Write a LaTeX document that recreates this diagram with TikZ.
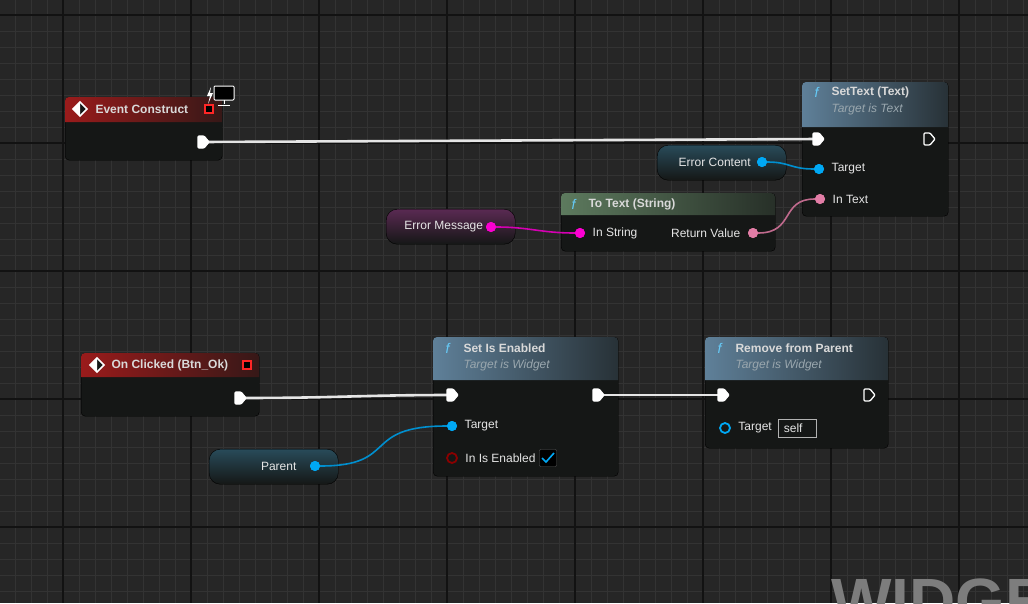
\documentclass[tikz,border=0pt]{standalone}
\usepackage{fontspec}
\setmainfont{Liberation Sans}
\usetikzlibrary{positioning}
\usetikzlibrary{calc}

\definecolor{bg}{HTML}{262626}
\definecolor{gridminor}{HTML}{333333}
\definecolor{gridmajor}{HTML}{121212}
\definecolor{nodebody}{HTML}{151716}
\definecolor{objblue}{HTML}{00A8F4}
\definecolor{strpink}{HTML}{FB00D1}
\definecolor{txtpink}{HTML}{E27DA6}
\definecolor{boolred}{HTML}{8A0000}
\definecolor{evred}{HTML}{9A1B1B}
\definecolor{fnblue}{HTML}{5F8099}
\definecolor{fngreen}{HTML}{5D7A5E}
\definecolor{subtxt}{HTML}{9AA7AE}

\newcommand{\hdr}[5]{% x1 y1 x2 yh colour
  \path[left color=#5, right color=#5!25!nodebody]
    (#1,#4) [rounded corners=4pt]-- (#1,#2) -- (#3,#2) [sharp corners]-- (#3,#4) -- cycle;}
\newcommand{\execpin}[2]{% coordinate, filled or not
  \path[draw=white, line width=1.3pt, fill=#2, rounded corners=1pt]
    ($(#1)+(-5,-6)$) -- ($(#1)+(1,-6)$) -- ($(#1)+(6,0)$) -- ($(#1)+(1,6)$) -- ($(#1)+(-5,6)$) -- cycle;}

\begin{document}
\begin{tikzpicture}[x=1pt, y=-1pt,
    blk/.style={rectangle, draw=black, fill=nodebody, rounded corners=4pt, anchor=north west, inner sep=0},
    pill/.style={rectangle, draw=black, rounded corners=11pt, anchor=north west, inner sep=0,
      minimum width=129pt, minimum height=35pt, top color=#1!22!nodebody!90!white, bottom color=nodebody,
      font=\fontsize{12}{14}\selectfont, text=white!90!black},
    pin/.style={circle, fill=#1, minimum size=10pt, inner sep=0},
    hpin/.style={circle, draw=#1, line width=1.8pt, minimum size=10pt, inner sep=0},
    ttl/.style={anchor=west, font=\bfseries\fontsize{12}{14}\selectfont, text=white!85!black},
    sub/.style={anchor=west, font=\itshape\fontsize{12}{14}\selectfont, text=subtxt},
    lbl/.style={anchor=west, font=\fontsize{12}{14}\selectfont, text=white!90!black},
    fn/.style={anchor=west, font=\itshape\fontsize{14}{14}\selectfont, text=objblue!60!white},
    wire/.style={line width=1.6pt, #1},
    exec/.style={line width=2.6pt, white!90!black}
]
% background grid
\fill[bg] (0,0) rectangle (1028,603);
\useasboundingbox (0,0) rectangle (1028,603);
\foreach \x in {15,31,...,1028} \draw[gridminor, line width=1pt] (\x,0) -- (\x,603);
\foreach \y in {15,31,...,603} \draw[gridminor, line width=1pt] (0,\y) -- (1028,\y);
\foreach \x in {63,191,...,1028} \draw[gridmajor, line width=1.2pt] (\x,0) -- (\x,603);
\foreach \y in {15,143,...,603} \draw[gridmajor, line width=1.2pt] (0,\y) -- (1028,\y);
\node[anchor=north west, font=\bfseries\fontsize{64}{64}\selectfont, text=white!40!bg] (wgt) at (828,575) {WIDGET};

% node bodies
\node[blk, minimum width=157pt, minimum height=63pt] (evc) at (65,97) {};
\node[blk, minimum width=146pt, minimum height=134pt] (st) at (802,82) {};
\node[blk, minimum width=214pt, minimum height=58pt] (tt) at (561,193) {};
\node[blk, minimum width=178pt, minimum height=63pt] (onc) at (81,353) {};
\node[blk, minimum width=185pt, minimum height=139pt] (sie) at (433,337) {};
\node[blk, minimum width=183pt, minimum height=111pt] (rfp) at (705,337) {};
\hdr{65}{97}{222}{122}{evred}
\hdr{802}{82}{948}{127}{fnblue}
\hdr{561}{193}{775}{215}{fngreen}
\hdr{81}{353}{259}{377}{evred}
\hdr{433}{337}{618}{380}{fnblue}
\hdr{705}{337}{888}{380}{fnblue}

% variable pills
\node[pill=objblue] (ecv) at (657,145) {\hspace*{-14pt}Error Content};
\node[pill=strpink] (emv) at (386,209) {\hspace*{-14pt}Error Message};
\node[pill=objblue] (par) at (209,449) {\hspace*{10pt}Parent};

% titles
\node[ttl] (evc-t) at (92,109) {Event Construct};
\path[draw=white, fill=nodebody, line width=1.5pt] (73,109) -- (80,102) -- (87,109) -- (80,116) -- cycle;
\fill[white] (80,102) -- (73,109) -- (80,116) -- cycle;
\node[draw=red!85!white, line width=1.5pt, fill=black, minimum size=8pt, inner sep=0] (evc-d) at (209,109) {};
\draw[white, line width=1pt, fill=black, rounded corners=1pt] (214,86) rectangle (234,100);
\draw[white, line width=1pt] (224,100) -- (224,104) (218,105) -- (230,105);
\fill[white] (211,87) -- (207,96) -- (210,96) -- (208,104) -- (213,93) -- (210,93) -- cycle;
\node[fn] (st-f) at (811,92) {f};
\node[ttl] (st-t) at (828,92) {SetText (Text)};
\node[sub] (st-s) at (828,109) {Target is Text};
\node[fn] (tt-f) at (568,204) {f};
\node[ttl] (tt-t) at (585,204) {To Text (String)};
\node[ttl] (onc-t) at (108,365) {On Clicked (Btn\_Ok)};
\path[draw=white, fill=nodebody, line width=1.5pt] (90,365) -- (97,358) -- (104,365) -- (97,372) -- cycle;
\fill[white] (97,358) -- (90,365) -- (97,372) -- cycle;
\node[draw=red!85!white, line width=1.5pt, fill=black, minimum size=8pt, inner sep=0] (onc-d) at (247,365) {};
\node[fn] (sie-f) at (442,348) {f};
\node[ttl] (sie-t) at (460,348) {Set Is Enabled};
\node[sub] (sie-s) at (460,365) {Target is Widget};
\node[fn] (rfp-f) at (714,348) {f};
\node[ttl] (rfp-t) at (732,348) {Remove from Parent};
\node[sub] (rfp-s) at (732,365) {Target is Widget};

% pins
\coordinate (evc-out) at (203,142);
\coordinate (st-in) at (818,139);
\coordinate (st-out) at (929,139);
\coordinate (onc-out) at (240,398);
\coordinate (sie-in) at (452,395);
\coordinate (sie-out) at (598,395);
\coordinate (rfp-in) at (723,395);
\coordinate (rfp-out) at (869,395);
\node[pin=objblue] (ecv-p) at (762,162) {};
\node[pin=strpink] (emv-p) at (491,227) {};
\node[pin=objblue] (par-p) at (315,466) {};
\node[pin=objblue] (st-tg) at (819,169) {};
\node[pin=txtpink] (st-it) at (820,199) {};
\node[pin=strpink] (tt-is) at (580,233) {};
\node[pin=txtpink] (tt-rv) at (753,233) {};
\node[pin=objblue] (sie-tg) at (452,426) {};
\node[hpin=boolred] (sie-en) at (452,458) {};
\node[hpin=objblue] (rfp-tg) at (725,428) {};

% connectors
\draw[exec] (evc-out) -- (st-in);
\draw[exec] (onc-out) .. controls (340,398) and (360,395) .. (sie-in);
\draw[exec] (sie-out) -- (rfp-in);
\draw[wire=objblue!85!black] (ecv-p) .. controls (790,162) and (790,169) .. (st-tg);
\draw[wire=strpink!85!black] (emv-p) .. controls (530,227) and (540,233) .. (tt-is);
\draw[wire=txtpink!85!black] (tt-rv) .. controls (795,233) and (780,199) .. (st-it);
\draw[wire=objblue!85!black] (par-p) .. controls (400,466) and (360,426) .. (sie-tg);
\foreach \p/\f in {evc-out/white, st-in/white, st-out/nodebody, onc-out/white,
    sie-in/white, sie-out/white, rfp-in/white, rfp-out/nodebody} {\execpin{\p}{\f}}
\foreach \p/\c in {ecv-p/objblue, emv-p/strpink, par-p/objblue, st-tg/objblue, st-it/txtpink,
    tt-is/strpink, tt-rv/txtpink, sie-tg/objblue}
  {\node[pin=\c] at (\p) {};}

% pin labels
\node[lbl] (st-tg-l) [right=4pt of st-tg] {Target};
\node[lbl] (st-it-l) [right=4pt of st-it] {In Text};
\node[lbl] (tt-is-l) [right=4pt of tt-is] {In String};
\node[lbl, anchor=east] (tt-rv-l) [left=4pt of tt-rv] {Return Value};
\node[lbl] (sie-tg-l) [right=4pt of sie-tg] {Target};
\node[lbl] (sie-en-l) [right=4pt of sie-en] {In Is Enabled};
\node[draw=white!35!black, fill=black, minimum size=17pt, inner sep=0, rounded corners=1pt] (sie-cb) at (548,458) {};
\draw[objblue, line width=1.6pt] (542,458) -- (546,462) -- (554,453);
\node[lbl] (rfp-tg-l) [right=4pt of rfp-tg] {Target};
\node[draw=white!70!black, anchor=west, minimum width=38pt, minimum height=18pt, inner sep=0,
  font=\fontsize{12}{14}\selectfont, text=white!90!black] (rfp-self) at (778,428) {\hspace*{-8pt}self};
\end{tikzpicture}
\end{document}
